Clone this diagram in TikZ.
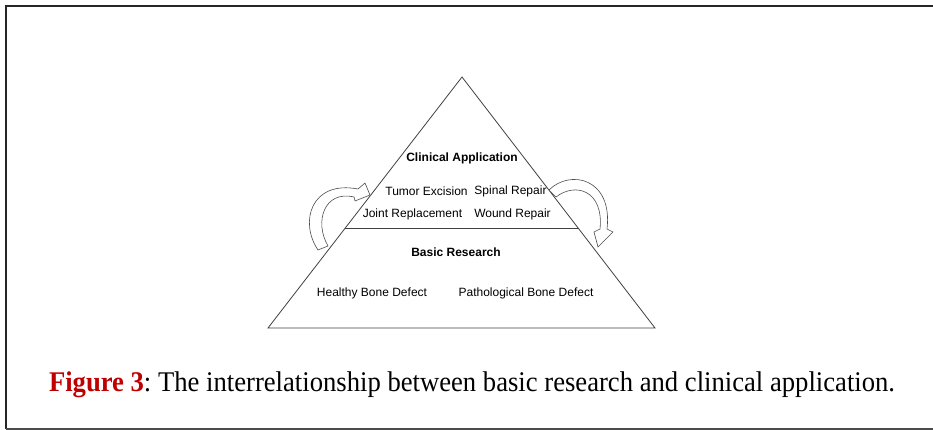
\documentclass[tikz,border=0pt]{standalone}
\usepackage{fontspec}
\setmainfont{Liberation Serif}
\setsansfont{Liberation Sans}
\usepackage{tikz}
\usetikzlibrary{calc}
\definecolor{figred}{RGB}{192,0,0}
\frenchspacing

\begin{document}
\begin{tikzpicture}[x=1pt,y=-1pt,
	every node/.style={inner sep=0pt,font=\sffamily\fontsize{12}{14}\selectfont},
	head/.style={font=\sffamily\bfseries\fontsize{12}{14}\selectfont},
	edge/.style={draw=black!75,line width=0.8pt},
	turn/.style={draw=black!70,line width=0.6pt,fill=white}]
	  \useasboundingbox (0,0) rectangle (933,430);
	  % frame, open on the right
	  \draw[black!85,line width=2pt] (935,6) -- (6,6) -- (6,429);
	  \draw[black!70,line width=1.6pt] (6,429) -- (935,429);

	  % the pyramid
	  \coordinate (top) at (462,77);
	  \coordinate (bl) at (268,328);
	  \coordinate (br) at (655,328);
	  \coordinate (ml) at ($(top)!0.6016!(bl)$);
	  \coordinate (mr) at ($(top)!0.6016!(br)$);
	  \draw[edge] (top) -- (bl) -- (br) -- cycle;
	  \draw[edge] (ml) -- (mr);

	  \node[head] (clin) at (462,158.5) {Clinical Application};
	  \node (tumor) at (426.5,191.5) {Tumor Excision};
	  \node (spine) at (510.5,191.5) {Spinal Repair};
	  \node (joint) at (412.5,214.5) {Joint Replacement};
	  \node (wound) at (512.5,214.5) {Wound Repair};
	  \node[head] (basic) at (456,252.5) {Basic Research};
	  \node (healthy) at (372,293.5) {Healthy Bone Defect};
	  \node (patho) at (526,293.5) {Pathological Bone Defect};

	  % hollow turning arrows
	  \draw[turn] (318,250) .. controls (299,222) and (311,180) .. (358,189)
	    -- (365,183) -- (370,195) -- (355,201) -- (354,197)
	    .. controls (324,190) and (314,222) .. (328,246) -- cycle;
	  \draw[turn] (549,190) .. controls (570,169) and (613,178) .. (607,229)
	    -- (613,232) -- (598,247) -- (594,232) -- (600,229)
	    .. controls (604,190) and (575,182) .. (556,197) -- cycle;

	  \node[font=\rmfamily\fontsize{28.5}{32}\selectfont,xscale=0.935,anchor=base] (cap) at (472,391.5)
	    {\textcolor{figred}{\textbf{Figure 3}}: The interrelationship between basic research and clinical application.};
	\end{tikzpicture}
\end{document}
